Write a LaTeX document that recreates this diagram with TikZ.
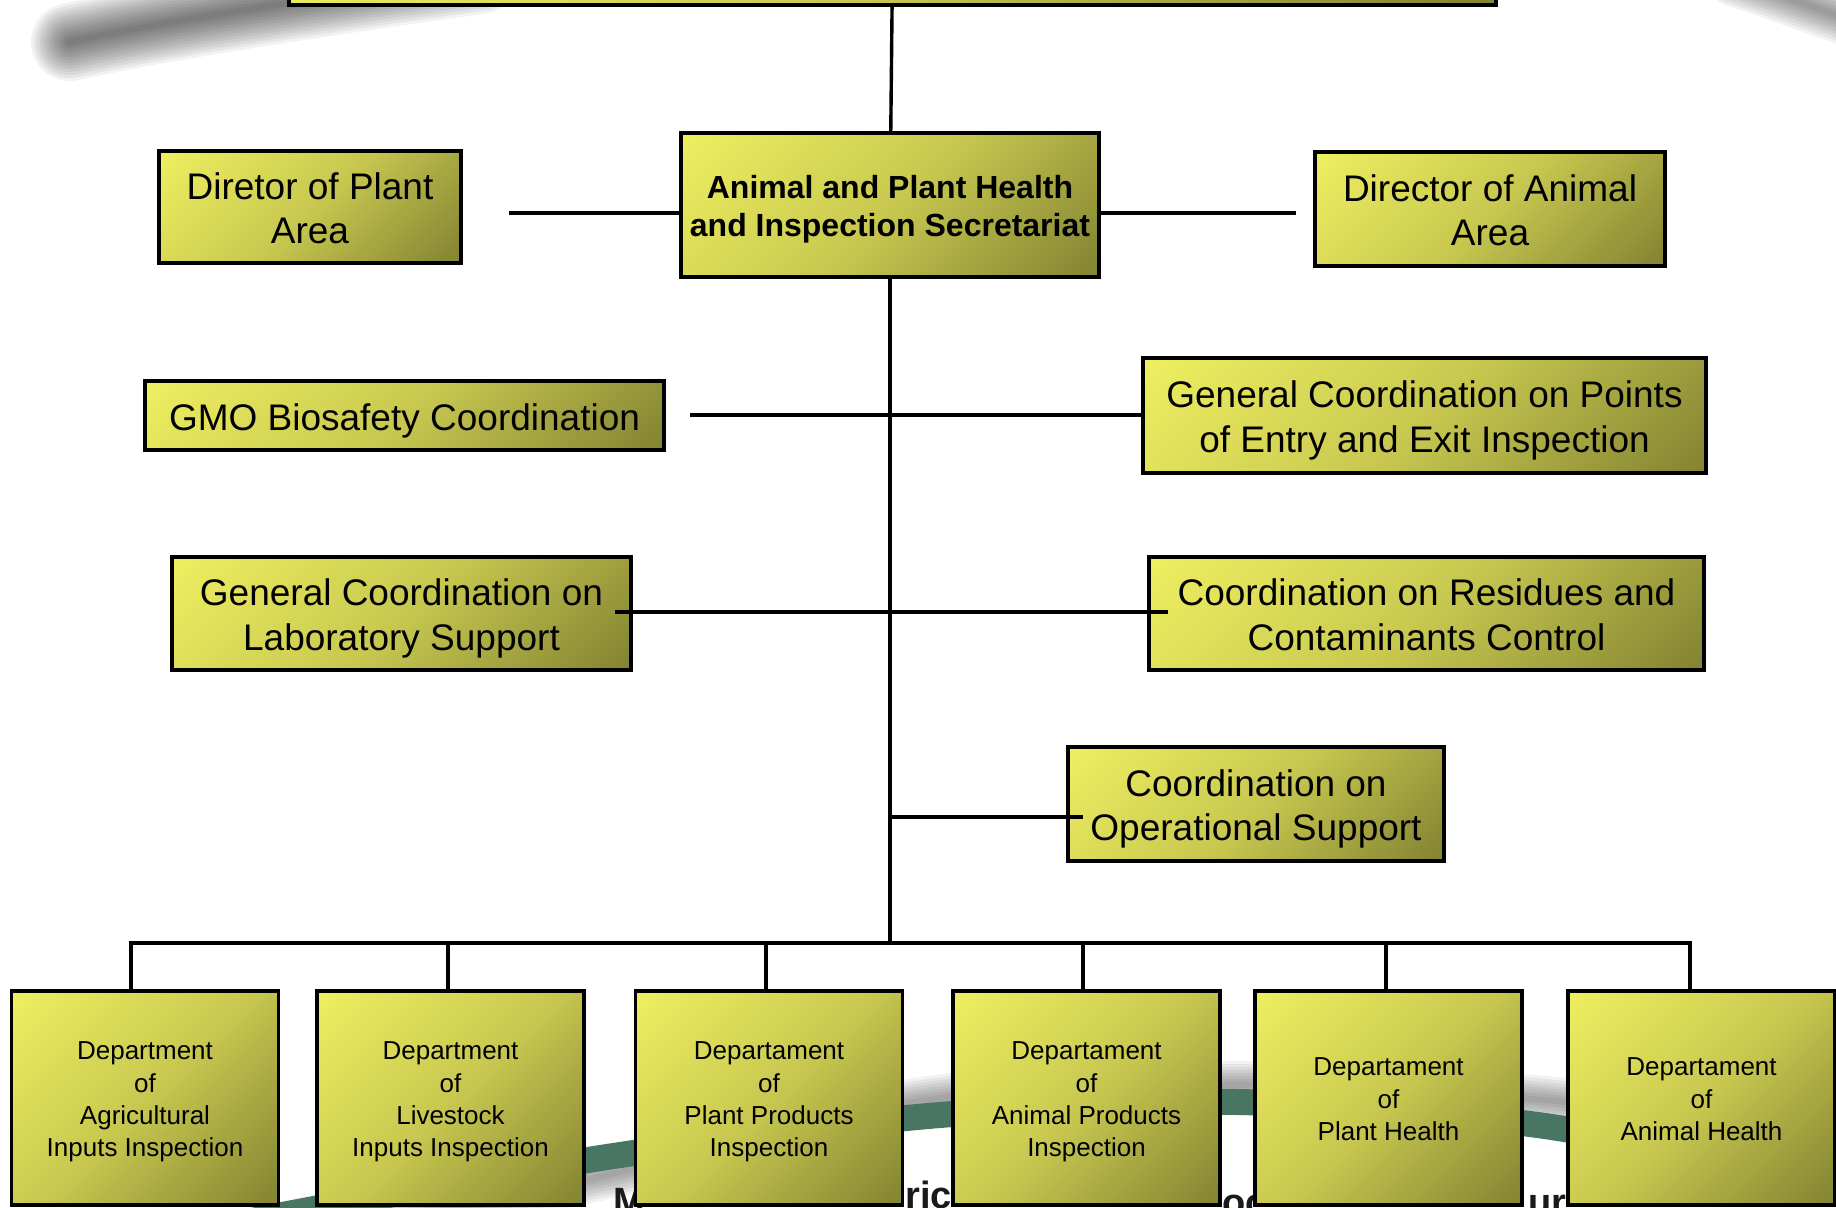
\documentclass[tikz,border=0pt]{standalone}
\usepackage{fontspec}
\setmainfont{Liberation Sans}

\definecolor{boxhi}{RGB}{255,255,104}
\definecolor{boxmid}{RGB}{200,200,80}
\definecolor{boxlo}{RGB}{102,102,38}
\definecolor{ringgreen}{RGB}{72,118,98}
\definecolor{logotext}{RGB}{26,26,26}
\pgfdeclarehorizontalshading{boxfade}{100bp}{color(0bp)=(boxhi); color(50bp)=(boxmid); color(100bp)=(boxlo)}
\newcommand{\boxtop}{\rule{0pt}{1em}}
\newcommand{\boxbot}{\rule[-0.21em]{0pt}{0.21em}}

\begin{document}
\begin{tikzpicture}[x=0.5pt,y=-0.5pt]
    \tikzstyle{unit}=[rectangle,draw,line width=1.7pt,shade,shading=boxfade,shading angle=-45,inner sep=0pt,align=center,text=black]
    \tikzstyle{big}=[unit,font=\fontsize{18.5}{22.3}\selectfont]
    \tikzstyle{head}=[unit,font=\bfseries\fontsize{16}{19.2}\selectfont]
    \tikzstyle{dept}=[unit,font=\fontsize{13}{16.2}\selectfont,minimum width=133.5pt,minimum height=107pt]
    \tikzstyle{link}=[line width=1.7pt]
    \tikzstyle{smudge}=[line cap=round,black,opacity=0.05]
    \tikzstyle{logo}=[font=\bfseries\fontsize{19}{19}\selectfont,text=logotext,inner sep=0pt,anchor=base west]
    \path[use as bounding box,clip] (0,0) rectangle (1836,1207);
    \fill[white] (0,0) rectangle (1836,1207);
    % background logo
    \foreach \w in {3,6,...,39}
      \draw[smudge,line width=\w pt] (70,42) .. controls (150,24) and (300,0) .. (480,-25);
    \foreach \w in {3,6,...,27}
      \draw[smudge,line width=\w pt] (1735,-20) .. controls (1775,-7) and (1805,4) .. (1850,20);
    \foreach \w in {3,6,...,24}
      \draw[smudge,line width=\w pt] plot[smooth] coordinates {(250,1250) (607,1175) (928,1100) (1238,1085) (1545,1100) (1850,1140)};
    \draw[ringgreen,line width=13pt] plot[smooth] coordinates {(0,1272) (298,1212) (607,1157) (928,1116) (1238,1102) (1545,1126) (1850,1188)};
    \node[logo] (lm) at (613,1214) {M};
    \node[logo] (lric) at (905,1208) {ric};
    \node[logo] (loc) at (1222,1215) {oc};
    \node[logo] (lur) at (1528,1215) {ur};
    % chart
    \node[unit,minimum width=603.5pt,minimum height=40pt] (top) at (892.5,-35) {};
    \node[head,minimum width=209pt,minimum height=72pt] (secr) at (890,205) {\boxtop Animal and Plant Health\\and Inspection Secretariat\boxbot};
    \node[big,minimum width=151pt,minimum height=56pt] (plant) at (310,207) {\boxtop Diretor of Plant\\Area\boxbot};
    \node[big,minimum width=175pt,minimum height=57pt] (animal) at (1490,209) {\boxtop Director of Animal\\Area\boxbot};
    \node[big,minimum width=259.5pt,minimum height=34.5pt] (gmo) at (404.5,415.5) {\boxtop GMO Biosafety Coordination\boxbot};
    \node[big,minimum width=281.5pt,minimum height=57.5pt] (entry) at (1424.5,415.5) {\boxtop General Coordination on Points\\of Entry and Exit Inspection\boxbot};
    \node[big,minimum width=229.5pt,minimum height=56.5pt] (lab) at (401.5,613.5) {\boxtop General Coordination on\\Laboratory Support\boxbot};
    \node[big,minimum width=277.5pt,minimum height=56.5pt] (resid) at (1426.5,613.5) {\boxtop Coordination on Residues and\\Contaminants Control\boxbot};
    \node[big,minimum width=188pt,minimum height=57pt] (oper) at (1256,804) {\boxtop Coordination on\\Operational Support\boxbot};
    \node[dept] (d1) at (145,1098) {\boxtop Department\\of\\Agricultural\\Inputs Inspection\boxbot};
    \node[dept] (d2) at (450.5,1098) {\boxtop Department\\of\\Livestock\\Inputs Inspection\boxbot};
    \node[dept] (d3) at (769,1098) {\boxtop Departament\\of\\Plant Products\\Inspection\boxbot};
    \node[dept] (d4) at (1086.5,1098) {\boxtop Departament\\of\\Animal Products\\Inspection\boxbot};
    \node[dept] (d5) at (1388.5,1098) {\boxtop Departament\\of\\Plant Health\boxbot};
    \node[dept] (d6) at (1701.5,1098) {\boxtop Departament\\of\\Animal Health\boxbot};
    % connectors
    \coordinate (plantend) at (509,213);
    \coordinate (animalend) at (1296,213);
    \coordinate (gmoend) at (690,415);
    \coordinate (labend) at (615,612);
    \coordinate (residend) at (1168,612);
    \coordinate (operend) at (1083,817);
    \coordinate (bus) at (888,943);
    \draw[link] (top) -- (secr);
    \draw[link] (plantend) -- (plantend -| secr.west);
    \draw[link] (secr.east |- animalend) -- (animalend);
    \draw[link] (secr.south) -- (secr.south |- bus);
    \draw[link] (gmoend) -- (gmoend -| entry.west);
    \draw[link] (labend) -- (residend);
    \draw[link] (secr.south |- operend) -- (operend);
    \foreach \i/\x in {1/131,2/448,3/766,4/1083,5/1386,6/1690} {
      \coordinate (b\i) at (\x,943);
      \draw[link] (b\i) -- (b\i |- d\i.north);
    }
    \draw[link,line cap=rect] (b1) -- (b6);
\end{tikzpicture}
\end{document}
